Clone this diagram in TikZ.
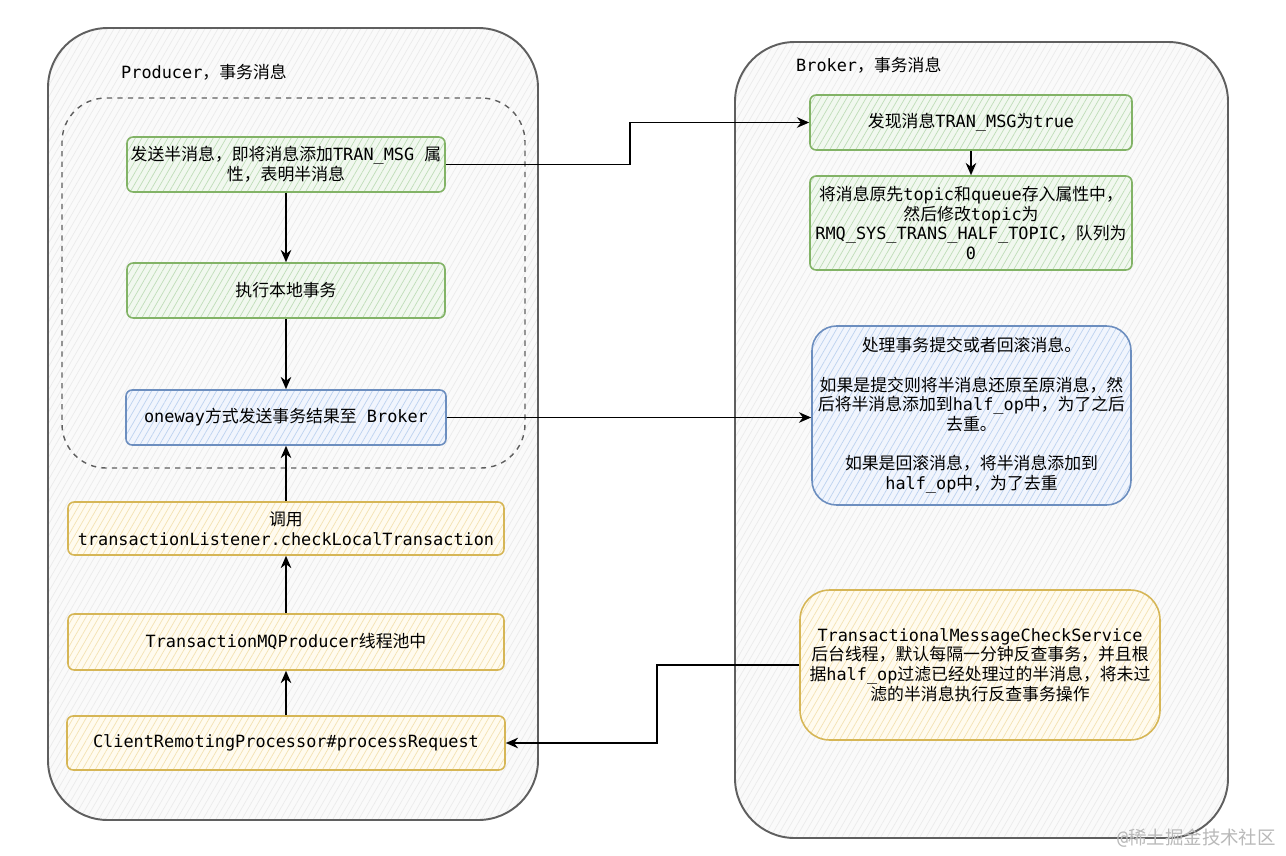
\documentclass[tikz,border=0pt]{standalone}
\usepackage{fontspec}
\usetikzlibrary{arrows.meta,patterns.meta}
\setmainfont{DejaVu Sans Mono}
\newfontfamily\cjk{Noto Sans CJK SC}
\newfontfamily\lat{DejaVu Sans Mono}

% Chinese characters are set in the CJK font, everything else in mono
\XeTeXinterchartokenstate=1
\newXeTeXintercharclass\cjkclass
\makeatletter
\def\cjkrange#1#2{\count@=#1\relax
  \loop\XeTeXcharclass\count@=\cjkclass
  \ifnum\count@<#2\advance\count@\@ne\repeat}
\makeatother
\cjkrange{"3000}{"303F}
\cjkrange{"4E00}{"9FFF}
\cjkrange{"FF00}{"FFEF}
\XeTeXinterchartoks 0 \cjkclass={\cjk}
\XeTeXinterchartoks 4095 \cjkclass={\cjk}
\XeTeXinterchartoks \cjkclass 0={\lat}
\XeTeXinterchartoks \cjkclass 4095={\lat}

\definecolor{grnline}{HTML}{82B366}
\definecolor{grnfill}{HTML}{F1F8EF}
\definecolor{grnhatch}{HTML}{BFDDB8}
\definecolor{bluline}{HTML}{6C8EBF}
\definecolor{blufill}{HTML}{F1F5FD}
\definecolor{bluhatch}{HTML}{BDD2EF}
\definecolor{ylwline}{HTML}{D6B656}
\definecolor{ylwfill}{HTML}{FFFBEF}
\definecolor{ylwhatch}{HTML}{F3E2B2}
\definecolor{frmline}{HTML}{5F5F5F}
\definecolor{frmfill}{HTML}{FAFAFA}
\definecolor{frmhatch}{HTML}{EBEBEB}

\begin{document}
\begin{tikzpicture}[x=0.02cm,y=-0.02cm,
    font=\fontsize{9.6}{11.2}\selectfont,
    wh/.style 2 args={minimum width=#1*0.02cm,minimum height=#2*0.02cm},
    hatch/.style={preaction={fill=#1fill},draw=#1line,
      pattern={Lines[angle=60,distance=3.2pt,line width=0.4pt]},pattern color=#1hatch},
    box/.style={align=center,inner sep=0pt,line width=0.9pt,rounded corners=3.5pt},
    greenbox/.style={box,hatch=grn},
    bluebox/.style={box,hatch=blu},
    yellowbox/.style={box,hatch=ylw},
    framebox/.style={hatch=frm,line width=1.1pt,rounded corners=34pt},
    arr/.style={-{Stealth[length=7pt,width=6pt]},line width=0.9pt}]

  \fill[white] (0,0) rectangle (1286,856);
  \useasboundingbox (0,0) rectangle (1286,856);

  % the two sides
  \node[framebox,wh={490}{792}] (prod) at (293,424) {};
  \node[framebox,wh={493}{796}] (brok) at (981.5,440) {};
  \node[draw=frmline,dashed,line width=0.8pt,rounded corners=25pt,wh={463}{370}] (local) at (293.5,283) {};
  \node[anchor=west] (prodlbl) at (115,72) {Producer，事务消息};
  \node[anchor=west] (broklbl) at (790,65) {Broker，事务消息};

  % producer steps
  \node[greenbox,wh={318}{55}] (p1) at (286,164.5) {发送半消息，即将消息添加TRAN\_MSG 属\\性，表明半消息};
  \node[greenbox,wh={318}{55}] (p2) at (286,290.5) {执行本地事务};
  \node[bluebox,wh={320}{55}] (p3) at (286,417.5) {oneway方式发送事务结果至 Broker};
  \node[yellowbox,wh={436}{53}] (p4) at (286,528.5) {调用\\transactionListener.checkLocalTransaction};
  \node[yellowbox,wh={436}{56}] (p5) at (286,642) {TransactionMQProducer线程池中};
  \node[yellowbox,wh={438}{54}] (p6) at (286,743) {ClientRemotingProcessor\#processRequest};

  % broker steps
  \node[greenbox,wh={322}{55}] (b1) at (971,122.5) {发现消息TRAN\_MSG为true};
  \node[greenbox,wh={322}{94}] (b2) at (971,223) {将消息原先topic和queue存入属性中，\\然后修改topic为\\RMQ\_SYS\_TRANS\_HALF\_TOPIC，队列为\\0};
  \node[bluebox,wh={319}{179},rounded corners=14pt] (b3) at (971.5,415.5) {处理事务提交或者回滚消息。\\[11.2pt]如果是提交则将半消息还原至原消息，然\\后将半消息添加到half\_op中，为了之后\\去重。\\[11.2pt]如果是回滚消息，将半消息添加到\\half\_op中，为了去重};
  \node[yellowbox,wh={360}{150},rounded corners=17pt] (b4) at (980,665) {TransactionalMessageCheckService\\后台线程，默认每隔一分钟反查事务，并且根\\据half\_op过滤已经处理过的半消息，将未过\\滤的半消息执行反查事务操作};

  % loop over the vertical arrows
  \foreach \a/\b in {p1/p2,p2/p3,p6/p5,p5/p4,p4/p3,b1/b2}
    \draw[arr] (\a) -- (\b);

  % arrows between the two sides
  \draw[arr] (p1.east) -- (630,164.5) |- (b1.west);
  \draw[arr] (p3.east) -- (p3.east -| b3.west);
  \draw[arr] (b4.west) -- (657,665) |- (p6.east);

  \node[anchor=east,text=gray!55,font=\fontsize{10.5}{12}\selectfont] (mark) at (1282,838) {@稀土掘金技术社区};
\end{tikzpicture}
\end{document}
